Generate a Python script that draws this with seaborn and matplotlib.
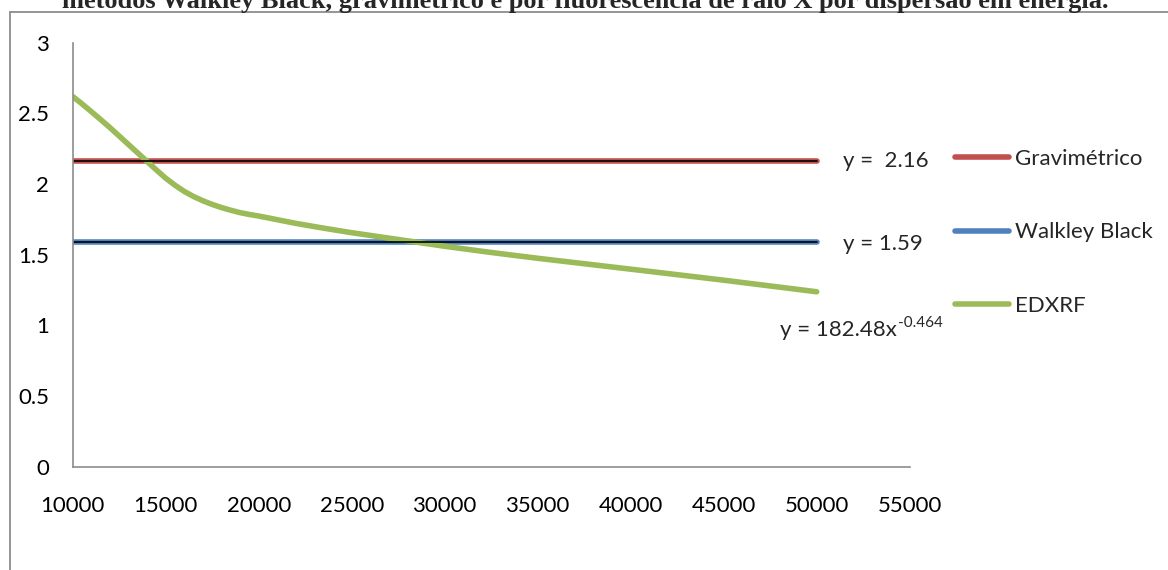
import matplotlib
matplotlib.use("Agg")
import matplotlib.pyplot as plt
from matplotlib.lines import Line2D
import seaborn as sns
import pandas as pd

# Concentration axis (x) and the three methods
x_points = [10000, 20000, 30000, 40000, 50000]
gravimetrico = [2.16, 2.16, 2.16, 2.16, 2.16]
walkley_black = [1.59, 1.59, 1.59, 1.59, 1.59]

edxrf_x = [10000, 10500, 11000, 11500, 12000, 12500, 13000, 13500, 14000,
           14500, 15000, 15500, 16000, 16500, 17000, 17500, 18000, 18500,
           19000, 19500, 20000, 21000, 22000, 23500, 25000, 27500, 30000,
           32500, 35000, 40000, 45000, 50000]
edxrf_y = [2.62, 2.568, 2.513, 2.457, 2.40, 2.34, 2.28, 2.22, 2.16,
           2.10, 2.042, 1.992, 1.948, 1.912, 1.882, 1.856, 1.834, 1.815,
           1.798, 1.785, 1.774, 1.748, 1.722, 1.688, 1.656, 1.608, 1.56,
           1.516, 1.475, 1.398, 1.32, 1.238]

x_ticks = [10000, 15000, 20000, 25000, 30000, 35000, 40000, 45000, 50000, 55000]
y_ticks = [0, 0.5, 1, 1.5, 2, 2.5, 3]

labels = ["Gravimétrico", "Walkley Black", "EDXRF"]
colors = {"Gravimétrico": "#C0504D", "Walkley Black": "#4F81BD", "EDXRF": "#9BBB59"}

title = ("métodos Walkley Black, gravimétrico e por fluorescência de raio X "
         "por dispersão em energia.")

sns.set_style("white")
plt.rcParams["font.family"] = ["Lato", "DejaVu Sans"]

W, H = 1168, 570
fig = plt.figure(figsize=(W / 100, H / 100), dpi=100)
ax = fig.add_axes([72.7 / W, 1 - 466.7 / H, (909.7 - 72.7) / W, (466.7 - 42.8) / H])

df_h = pd.DataFrame({
    "x": x_points * 2,
    "y": gravimetrico + walkley_black,
    "metodo": ["Gravimétrico"] * len(x_points) + ["Walkley Black"] * len(x_points),
})
df_e = pd.DataFrame({"x": edxrf_x, "y": edxrf_y})

lw = 4.0
sns.lineplot(data=df_h, x="x", y="y", hue="metodo", palette=colors, ax=ax,
             linewidth=lw, legend=False, estimator=None, sort=False,
             solid_capstyle="round")
sns.lineplot(data=df_e, x="x", y="y", color=colors["EDXRF"], ax=ax,
             linewidth=lw, estimator=None, sort=False, solid_capstyle="round",
             solid_joinstyle="round")

# linear trendlines (constant) drawn on top
for vals in (gravimetrico, walkley_black):
    sns.lineplot(x=x_points, y=vals, color="black", linewidth=1.2, ax=ax,
                 estimator=None, sort=False)

ax.set_xlim(10000, 55000)
ax.set_ylim(0, 3)
ax.set_xticks(x_ticks)
ax.set_yticks(y_ticks)
ax.set_xticklabels([str(t) for t in x_ticks])
ax.set_yticklabels(["0", "0.5", "1", "1.5", "2", "2.5", "3"])
ax.set_xlabel("")
ax.set_ylabel("")

spine_c = "#8C8C8C"
for s in ("top", "right"):
    ax.spines[s].set_visible(False)
for s in ("left", "bottom"):
    ax.spines[s].set_color(spine_c)
    ax.spines[s].set_linewidth(1.2)
ax.tick_params(axis="both", which="major", direction="out", length=6,
               width=1.2, color=spine_c, labelsize=16, labelcolor="#000000")
ax.tick_params(axis="y", pad=11)
ax.tick_params(axis="x", pad=15)
ax.patch.set_alpha(0)

# trendline equations
fs = 16
ax.text(51410, 2.16, "y =  2.16", fontsize=fs, va="center", ha="left")
ax.text(51410, 1.575, "y = 1.59", fontsize=fs, va="center", ha="left")
ax.text(54317, 0.967, "y = 182.48x", fontsize=fs, va="center", ha="right")
ax.text(54350, 1.02, "-0.464", fontsize=11, va="center", ha="left")

# legend
handles = [Line2D([0], [0], color=colors[l], linewidth=lw, solid_capstyle="round")
           for l in labels]
fig.legend(handles, labels, loc="upper left",
           bbox_to_anchor=(955 / W, 1 - 149 / H), frameon=False, fontsize=fs,
           borderpad=0, borderaxespad=0, handlelength=2.43, handletextpad=0.25,
           labelspacing=2.4)

# chart area border and title
fig.add_artist(Line2D([10 / W, 10 / W], [0, 1 - 12 / H], transform=fig.transFigure,
                      color="#8C8C8C", linewidth=1.3))
fig.add_artist(Line2D([10 / W, 1], [1 - 12 / H, 1 - 12 / H], transform=fig.transFigure,
                      color="#8C8C8C", linewidth=1.3))
fig.text(585 / W, 1 - 8 / H, title, ha="center", va="baseline", fontsize=19,
         fontweight="bold", family=["Liberation Serif", "DejaVu Serif"])

fig.savefig("out.png", dpi=100)
